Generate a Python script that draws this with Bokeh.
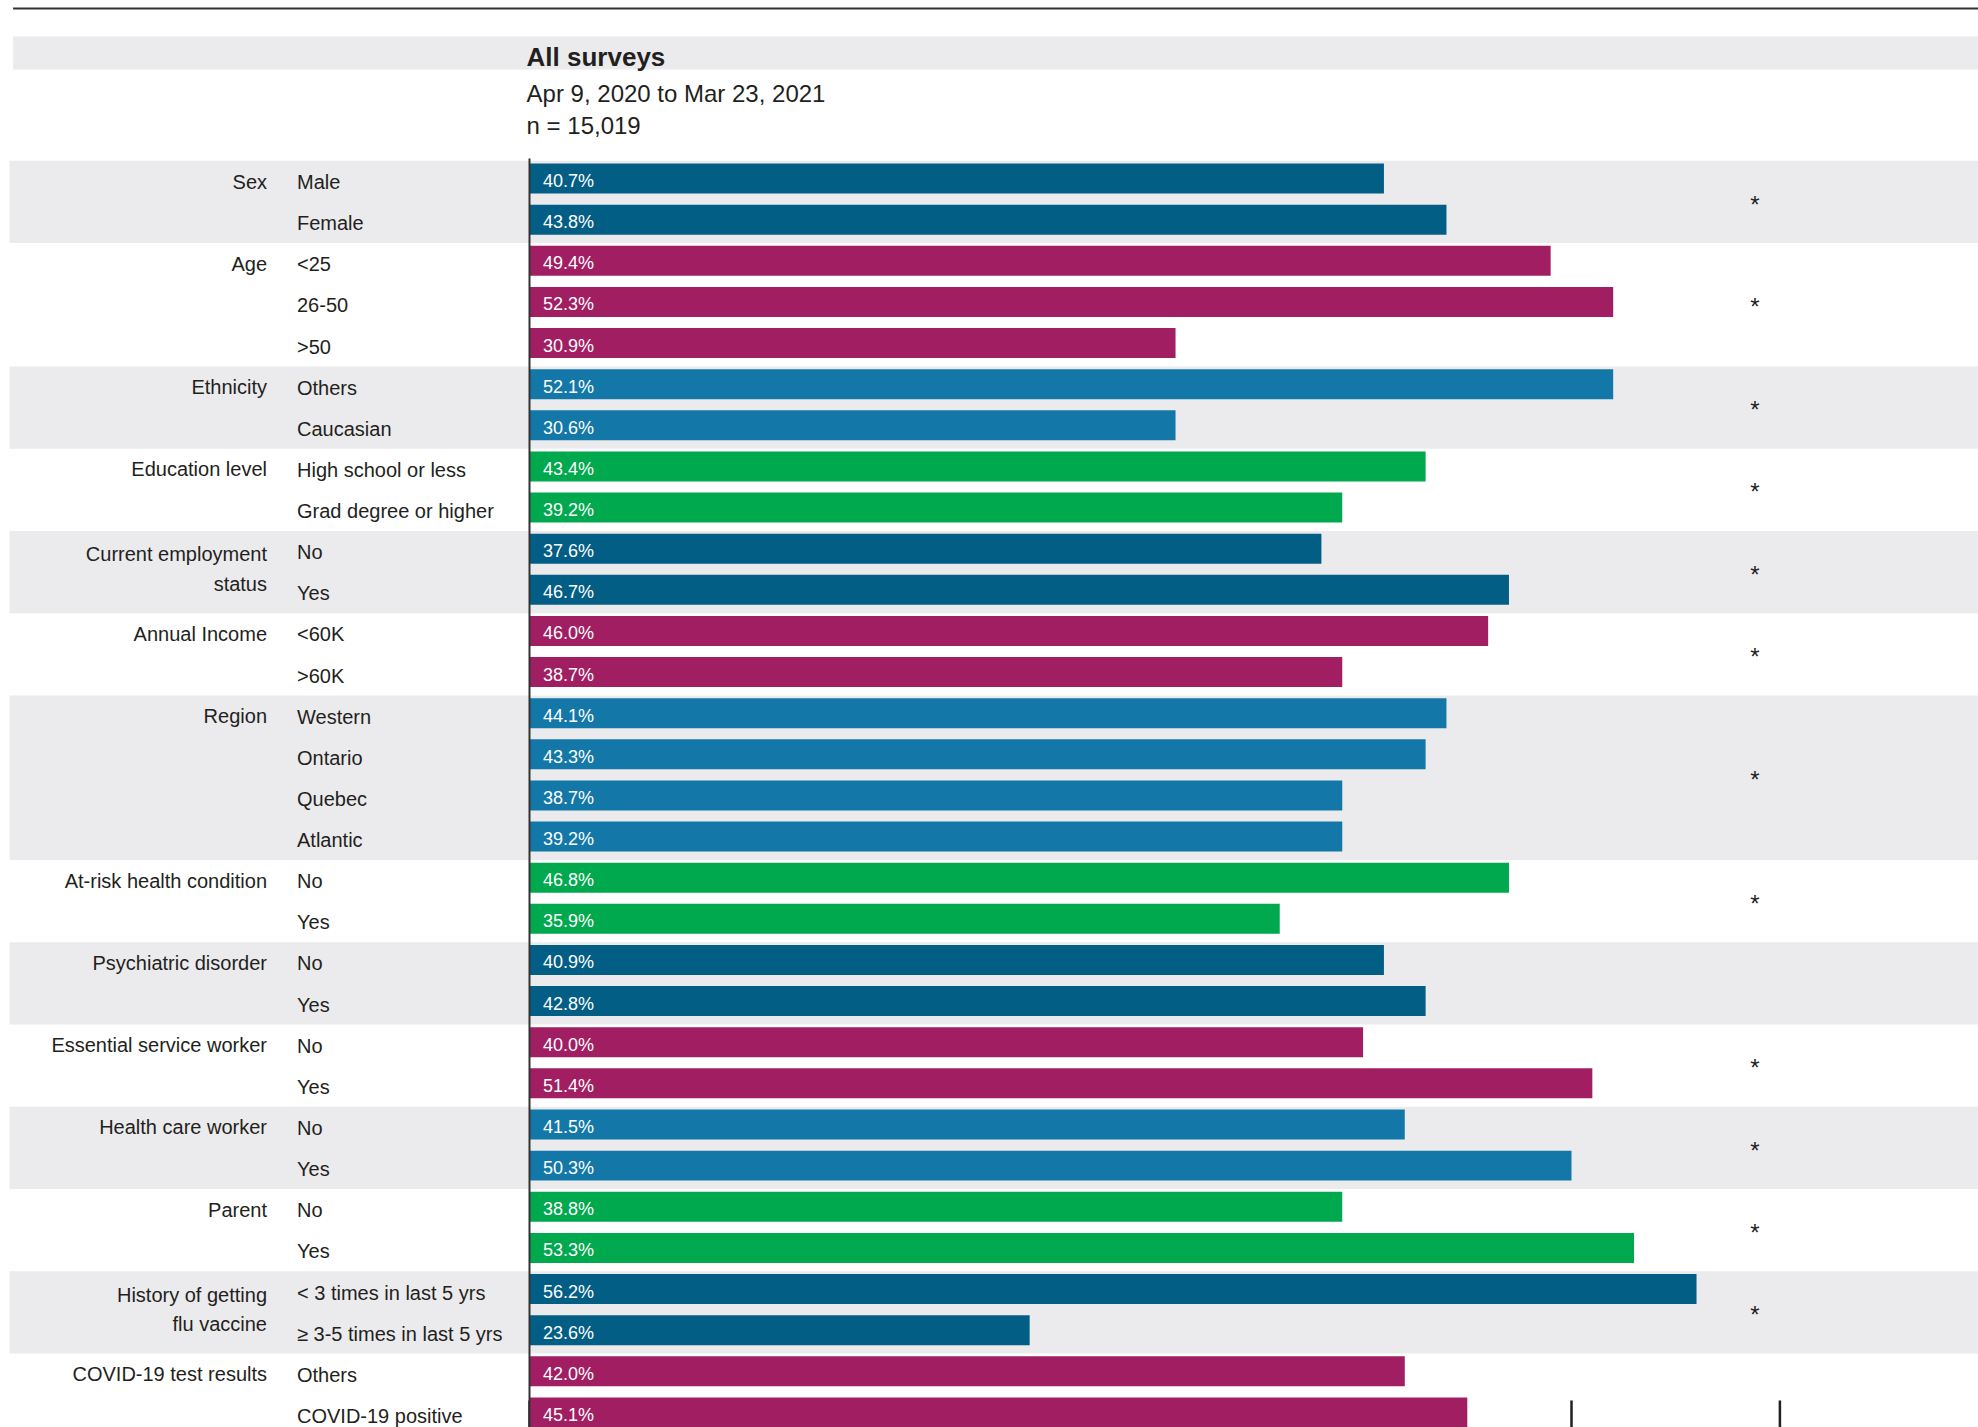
import numpy as np
from bokeh.plotting import figure
from bokeh.models import Range1d
from bokeh.core.properties import value
from bokeh.embed import file_html
from bokeh.resources import INLINE

# ---------------- data ----------------
title = "All surveys"
subtitle_lines = ["Apr 9, 2020 to Mar 23, 2021", "n = 15,019"]

groups = ["Sex", "Age", "Ethnicity", "Education level",
          "Current employment\nstatus", "Annual Income", "Region",
          "At-risk health condition", "Psychiatric disorder",
          "Essential service worker", "Health care worker", "Parent",
          "History of getting\nflu vaccine", "COVID-19 test results"]
group_sizes = [2, 3, 2, 2, 2, 2, 4, 2, 2, 2, 2, 2, 2, 2]
significant = [True, True, True, True, True, True, True, True, False,
               True, True, True, True, False]

subgroups = ["Male", "Female",
             "<25", "26-50", ">50",
             "Others", "Caucasian",
             "High school or less", "Grad degree or higher",
             "No", "Yes",
             "<60K", ">60K",
             "Western", "Ontario", "Quebec", "Atlantic",
             "No", "Yes",
             "No", "Yes",
             "No", "Yes",
             "No", "Yes",
             "No", "Yes",
             "< 3 times in last 5 yrs", "\u2265 3-5 times in last 5 yrs",
             "Others", "COVID-19 positive"]
pct = [40.7, 43.8,
       49.4, 52.3, 30.9,
       52.1, 30.6,
       43.4, 39.2,
       37.6, 46.7,
       46.0, 38.7,
       44.1, 43.3, 38.7, 39.2,
       46.8, 35.9,
       40.9, 42.8,
       40.0, 51.4,
       41.5, 50.3,
       38.8, 53.3,
       56.2, 23.6,
       42.0, 45.1]
axis_ticks = [0, 10, 20, 30, 40, 50, 60]

palette = ["#035E85", "#A11E62", "#1378A8", "#00A84E"]
BAND = "#EBEBED"
INK = "#231F20"
FONT = "Liberation Sans"

# ---------------- derived ----------------
n_rows = len(pct)
rows = np.arange(n_rows)
sizes = np.array(group_sizes)
starts = np.concatenate([[0], np.cumsum(sizes)[:-1]])
group_idx = np.repeat(np.arange(len(groups)), sizes)
bar_colors = [palette[g % 4] for g in group_idx]
# the source draws its bars at whole percents
bar_len = np.round(np.array(pct))
pct_labels = [f"{v:.1f}%" for v in pct]

W, H = 1978, 1427
p = figure(width=W, height=H, output_backend="svg", toolbar_location=None,
           x_range=Range1d(-25.384, 69.53), y_range=Range1d(30.367, -4.328),
           x_axis_location=None, y_axis_location=None,
           min_border=0, outline_line_color=None,
           background_fill_color="white", border_fill_color="white")
p.grid.visible = False

# top rule and header band
p.segment(x0=-24.78, x1=70, y0=-4.133, y1=-4.133, line_color="#333333", line_width=1.8)
p.quad(left=-24.78, right=70, top=-3.452, bottom=-2.650, fill_color=BAND, line_color=None)

# alternating group bands (every other group shaded)
g_shade = np.arange(0, len(groups), 2)
p.quad(left=-24.95, right=70,
       top=starts[g_shade] - 0.43,
       bottom=starts[g_shade] + sizes[g_shade] - 1 + 0.57,
       fill_color=BAND, line_color=None)

# axis ticks at the bottom (behind bars)
p.segment(x0=axis_ticks, x1=axis_ticks, y0=n_rows - 1 - 0.29, y1=n_rows + 1,
          line_color=INK, line_width=2.5)

# bars
p.hbar(y=rows, left=0, right=bar_len, height=0.729, fill_color=bar_colors,
       line_color=None)

# vertical axis line
p.segment(x0=0, x1=0, y0=-0.486, y1=n_rows + 1, line_color="#333333", line_width=2)

# value labels inside bars
p.text(x=0, y=rows, text=pct_labels, x_offset=13.5, y_offset=2.5,
       text_font=value(FONT), text_font_size="18px", text_color="white",
       text_align="left", text_baseline="middle")

# sub-group labels
p.text(x=0, y=rows, text=subgroups, x_offset=-232.5, y_offset=3.5,
       text_font=value(FONT), text_font_size="20px", text_color=INK,
       text_align="left", text_baseline="middle")

# group labels: one-line labels sit on the first row, two-line labels are centred
one = [i for i, g in enumerate(groups) if "\n" not in g]
two = [i for i, g in enumerate(groups) if "\n" in g]
p.text(x=0, y=starts[one], text=[groups[i] for i in one], x_offset=-262.5, y_offset=3,
       text_font=value(FONT), text_font_size="20px", text_color=INK,
       text_align="right", text_baseline="middle")
p.text(x=0, y=[starts[i] + (sizes[i] - 1) / 2 for i in two],
       text=[groups[i] for i in two], x_offset=-262.5, y_offset=0,
       text_font=value(FONT), text_font_size="20px", text_color=INK,
       text_align="right", text_baseline="middle", text_line_height=1.35)

# significance asterisks
sig_idx = [i for i, s in enumerate(significant) if s]
sig_y = [starts[i] + (sizes[i] - 1) / 2 for i in sig_idx]
p.text(x=58.8, y=sig_y, text=["*"] * len(sig_idx), y_offset=5,
       text_font=value(FONT), text_font_size="24px", text_color=INK,
       text_align="center", text_baseline="middle")

# header texts
p.text(x=-0.14, y=[-2.954], text=[title], text_font=value(FONT),
       text_font_size="26px", text_font_style="bold", text_color=INK,
       text_align="left", text_baseline="middle")
p.text(x=-0.14, y=[-2.055, -1.30], text=subtitle_lines, text_font=value(FONT),
       text_font_size="24px", text_color=INK,
       text_align="left", text_baseline="middle")

open("out.html", "w").write(file_html(p, INLINE))
